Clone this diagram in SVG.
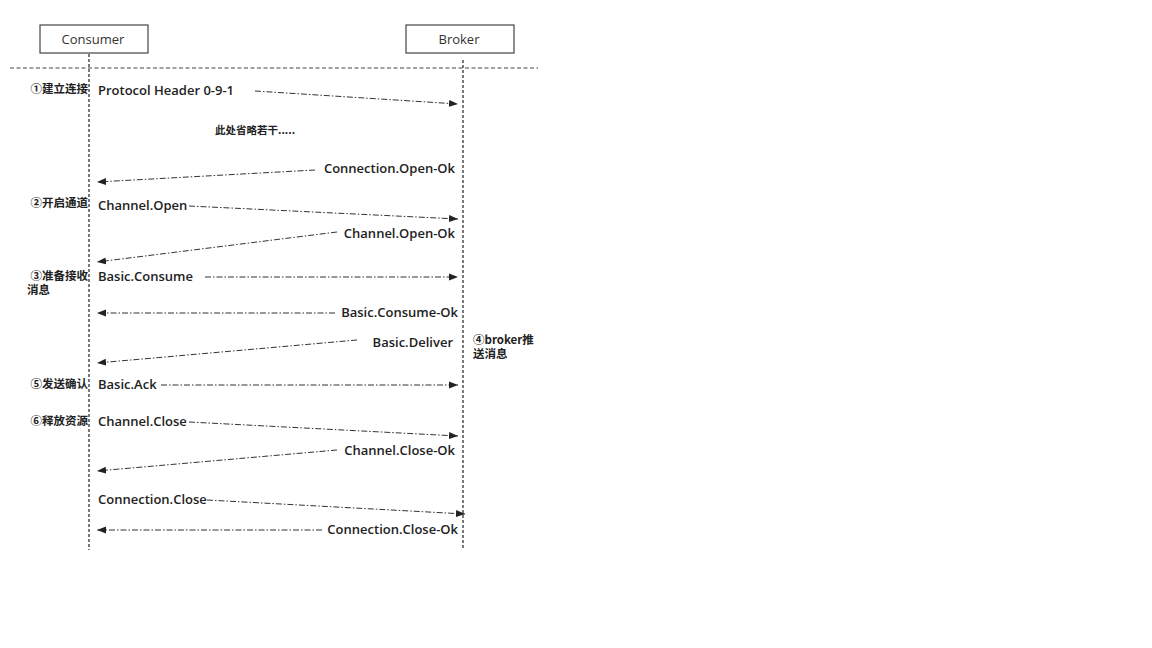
<svg xmlns="http://www.w3.org/2000/svg" width="1152" height="648" viewBox="0 0 1152 648">
<style>
.box{fill:#fff;stroke:#444;stroke-width:1.2}
.life{stroke:#333;stroke-width:1.3;stroke-dasharray:3 2;fill:none}
.sep{stroke:#444;stroke-width:1;stroke-dasharray:4 2.5;fill:none}
.msg{stroke:#333;stroke-width:1;stroke-dasharray:6 2 1.5 2;fill:none;marker-end:url(#ah)}
.t{font-family:"Open Sans","Noto Sans CJK SC",sans-serif;font-size:13px;fill:#222;font-weight:600}
.c{font-family:"Noto Sans CJK SC","Noto Sans",sans-serif;font-size:11.5px;fill:#222;font-weight:bold}
.h{font-family:"Open Sans",sans-serif;font-size:13px;fill:#333}
</style>
<defs>
<marker id="ah" markerWidth="10" markerHeight="8" refX="9" refY="4" orient="auto" markerUnits="userSpaceOnUse">
<path d="M0,0.5 L9,4 L0,7.5 Z" fill="#222"/>
</marker>
</defs>
<rect width="1152" height="648" fill="#fff"/>
<g id="consumer"><rect class="box" x="40" y="25" width="108" height="28"/><text class="h" x="93" y="44" text-anchor="middle">Consumer</text></g>
<g id="broker"><rect class="box" x="406" y="25" width="108" height="28"/><text class="h" x="459" y="44" text-anchor="middle">Broker</text></g>
<g id="lifelines">
<line class="sep" x1="10" y1="68" x2="538" y2="68"/>
<line class="life" x1="89" y1="54" x2="89" y2="550"/>
<line class="life" x1="463" y1="60" x2="463" y2="550"/>
</g>
<g id="labels">
<text class="c" x="88" y="93" text-anchor="end">①建立连接</text>
<text class="c" x="215" y="134" style="font-size:10.5px">此处省略若干.....</text>
<text class="c" x="88" y="207" text-anchor="end">②开启通道</text>
<text class="c" x="88" y="280" text-anchor="end">③准备接收</text>
<text class="c" x="27" y="294">消息</text>
<text class="c" x="473" y="344">④broker推</text>
<text class="c" x="473" y="358">送消息</text>
<text class="c" x="88" y="388" text-anchor="end">⑤发送确认</text>
<text class="c" x="88" y="425" text-anchor="end">⑥释放资源</text>
</g>
<g id="messages">
<text class="t" x="98" y="95">Protocol Header 0-9-1</text>
<text class="t" x="455" y="173" text-anchor="end">Connection.Open-Ok</text>
<text class="t" x="98" y="210">Channel.Open</text>
<text class="t" x="455" y="238" text-anchor="end">Channel.Open-Ok</text>
<text class="t" x="98" y="281">Basic.Consume</text>
<text class="t" x="458" y="317" text-anchor="end">Basic.Consume-Ok</text>
<text class="t" x="453" y="347" text-anchor="end">Basic.Deliver</text>
<text class="t" x="98" y="389">Basic.Ack</text>
<text class="t" x="98" y="426">Channel.Close</text>
<text class="t" x="455" y="455" text-anchor="end">Channel.Close-Ok</text>
<text class="t" x="98" y="504">Connection.Close</text>
<text class="t" x="458" y="534" text-anchor="end">Connection.Close-Ok</text>
</g>
<g id="connectors">
<line class="msg" x1="255" y1="91" x2="458" y2="104"/>
<line class="msg" x1="315" y1="170" x2="97" y2="182"/>
<line class="msg" x1="189" y1="206" x2="458" y2="219"/>
<line class="msg" x1="337" y1="232" x2="97" y2="262"/>
<line class="msg" x1="205" y1="277" x2="458" y2="277"/>
<line class="msg" x1="335" y1="313" x2="97" y2="313"/>
<line class="msg" x1="357" y1="340" x2="97" y2="363"/>
<line class="msg" x1="161" y1="385" x2="458" y2="385"/>
<line class="msg" x1="189" y1="422" x2="458" y2="436"/>
<line class="msg" x1="337" y1="450" x2="97" y2="471"/>
<line class="msg" x1="207" y1="500" x2="465" y2="514"/>
<line class="msg" x1="322" y1="530" x2="97" y2="530"/>
</g>
</svg>
